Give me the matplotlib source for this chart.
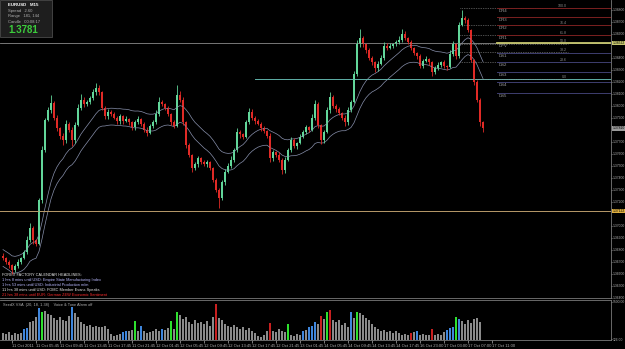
import numpy as np
import pandas as pd
import matplotlib
matplotlib.use('Agg')
import matplotlib.pyplot as plt
from matplotlib.patches import Rectangle

W, H = 625, 349
plt.rcParams['font.family'] = ['Liberation Sans', 'DejaVu Sans']

# EURUSD M15 closes (open of each bar = previous close)
first_open = 1.3675
closes = [
    1.3673, 1.3670, 1.3667, 1.3663, 1.3666, 1.3670, 1.3673, 1.3678, 1.3688, 1.3698,
    1.3688, 1.3685, 1.3721, 1.3763, 1.3788, 1.3796, 1.3802, 1.3790, 1.3781, 1.3775,
    1.3771, 1.3785, 1.3780, 1.3771, 1.3784, 1.3798, 1.3805, 1.3801, 1.3803, 1.3806,
    1.3811, 1.3815, 1.3811, 1.3798, 1.3791, 1.3795, 1.3793, 1.3790, 1.3787, 1.3791,
    1.3787, 1.3789, 1.3786, 1.3782, 1.3786, 1.3789, 1.3785, 1.3780, 1.3777, 1.3783,
    1.3786, 1.3793, 1.3803, 1.3801, 1.3798, 1.3793, 1.3786, 1.3783, 1.3809, 1.3805,
    1.3786, 1.3767, 1.3759, 1.3748, 1.3751, 1.3756, 1.3753, 1.3751, 1.3753, 1.3748,
    1.3738, 1.3730, 1.3723, 1.3736, 1.3745, 1.3750, 1.3755, 1.3763, 1.3778, 1.3776,
    1.3774, 1.3786, 1.3795, 1.3790, 1.3787, 1.3785, 1.3781, 1.3779, 1.3775, 1.3756,
    1.3761, 1.3759, 1.3755, 1.3746, 1.3755, 1.3763, 1.3771, 1.3766, 1.3769, 1.3774,
    1.3778, 1.3782, 1.3780, 1.3790, 1.3801, 1.3784, 1.3771, 1.3778, 1.3796, 1.3807,
    1.3800, 1.3797, 1.3794, 1.3790, 1.3786, 1.3796, 1.3803, 1.3826, 1.3851, 1.3856,
    1.3851, 1.3846, 1.3840, 1.3836, 1.3831, 1.3835, 1.3840, 1.3850, 1.3848, 1.3850,
    1.3851, 1.3853, 1.3855, 1.3860, 1.3856, 1.3853, 1.3848, 1.3844, 1.3841, 1.3833,
    1.3837, 1.3839, 1.3836, 1.3828, 1.3831, 1.3834, 1.3836, 1.3833, 1.3832, 1.3843,
    1.3851, 1.3841, 1.3867, 1.3873, 1.3871, 1.3863, 1.3838, 1.3820, 1.3805, 1.3786,
    1.3781,
]
# wick sizes in pips above / below the body
wick_up = [
    2, 1, 1, 1, 2, 2, 1, 2, 3, 4, 2, 1, 2, 3, 2, 3, 7, 2, 2, 1,
    2, 3, 1, 2, 2, 3, 5, 2, 2, 2, 3, 4, 2, 1, 2, 2, 1, 2, 1, 2,
    1, 2, 1, 1, 2, 2, 1, 1, 2, 2, 2, 3, 4, 2, 1, 2, 1, 2, 8, 3,
    2, 1, 2, 1, 2, 2, 1, 2, 2, 1, 1, 2, 1, 2, 2, 2, 3, 2, 3, 2,
    1, 2, 3, 2, 1, 2, 1, 2, 1, 2, 2, 1, 2, 1, 2, 2, 3, 2, 1, 2,
    2, 2, 1, 3, 4, 2, 1, 2, 3, 4, 2, 1, 2, 1, 2, 3, 2, 3, 4, 8,
    2, 1, 2, 1, 1, 2, 2, 3, 2, 2, 1, 2, 3, 4, 2, 1, 2, 1, 1, 2,
    2, 2, 1, 1, 2, 2, 1, 2, 1, 3, 3, 1, 3, 7, 2, 2, 1, 1, 1, 1,
    1,
]
wick_dn = [
    2, 2, 2, 3, 2, 1, 2, 1, 2, 2, 3, 2, 1, 2, 2, 1, 2, 2, 2, 3,
    4, 2, 2, 5, 2, 1, 2, 2, 1, 2, 1, 2, 2, 2, 2, 2, 2, 1, 2, 2,
    2, 1, 2, 2, 2, 1, 2, 2, 2, 1, 2, 1, 2, 1, 2, 2, 2, 2, 1, 2,
    2, 2, 2, 3, 2, 2, 2, 1, 2, 2, 2, 2, 8, 2, 2, 1, 2, 2, 2, 3,
    2, 1, 1, 2, 2, 1, 2, 2, 2, 3, 2, 2, 2, 3, 2, 1, 2, 1, 2, 1,
    1, 2, 2, 1, 2, 3, 3, 2, 1, 2, 2, 2, 2, 2, 3, 2, 1, 1, 1, 2,
    2, 2, 2, 2, 3, 2, 1, 2, 2, 1, 2, 1, 2, 2, 1, 2, 2, 2, 2, 2,
    2, 1, 2, 3, 2, 1, 2, 2, 2, 1, 2, 2, 1, 1, 2, 2, 2, 3, 2, 3,
    3,
]
volumes = [
    1670, 1500, 1920, 1330, 1670, 1500, 1830, 2750, 3000, 4420,
    4670, 5670, 8000, 6920, 7170, 6500, 6080, 5500, 4830, 5670,
    5000, 4670, 5830, 8170, 6670, 5670, 4420, 4000, 3580, 3830,
    3330, 3580, 3170, 3330, 3580, 2750, 1500, 1080, 1330, 1500,
    1920, 2330, 2170, 2500, 4670, 2330, 3580, 2330, 1670, 2000,
    2330, 2670, 2330, 2830, 2500, 3000, 4670, 2750, 6920, 6080,
    5250, 5670, 4420, 4000, 4830, 4170, 4420, 4000, 4670, 3580,
    5670, 9000, 5500, 4830, 4000, 3580, 3170, 3830, 3330, 2750,
    3170, 2500, 3000, 2330, 1670, 1080, 830, 1330, 2330, 4170,
    2330, 1920, 2750, 2330, 1920, 4000, 1330, 1000, 1500, 1330,
    2330, 2500, 3330, 3580, 4420, 4000, 5830, 5250, 6920, 7330,
    5000, 4420, 4830, 3830, 4170, 3170, 6920, 5500, 6920, 6670,
    6080, 5500, 4830, 4000, 3170, 2670, 2330, 2500, 2000, 2330,
    1830, 2170, 1670, 1330, 1500, 1170, 1670, 2000, 2330, 1330,
    1500, 1330, 1170, 2750, 1330, 1500, 1330, 1920, 2500, 3000,
    3330, 5670, 5250, 4670, 4000, 4830, 4170, 5250, 5500, 4420,
]
blue_bars = [7, 8, 12, 23, 40, 41, 46, 53, 100, 102, 103, 104, 116, 138, 148, 149, 150, 152]
green_bars = [13, 44, 56, 58, 95, 108, 118, 151]
red_bars = [71, 89, 106, 109, 136, 143]

date_labels = [
    '11 Oct 2011', '11 Oct 05:45', '11 Oct 09:45', '11 Oct 13:45', '11 Oct 17:45',
    '11 Oct 21:45', '12 Oct 01:45', '12 Oct 05:45', '12 Oct 09:45', '12 Oct 13:45',
    '12 Oct 17:45', '12 Oct 21:45', '13 Oct 01:45', '14 Oct 05:45', '14 Oct 09:45',
    '14 Oct 13:45', '14 Oct 17:45', '16 Oct 23:00', '17 Oct 03:00', '17 Oct 07:00',
    '17 Oct 11:00',
]

headlines = [
    'FOREX FACTORY CALENDAR HEADLINES:',
    '1 hrs 8 mins until USD: Empire State Manufacturing Index',
    '1 hrs 53 mins until USD: Industrial Production m/m',
    '11 hrs 38 mins until USD: FOMC Member Evans Speaks',
    '21 hrs 38 mins until EUR: German ZEW Economic Sentiment',
]
headline_colors = ['#e8e8e8', '#b8b8ff', '#b8b8ff', '#e8e8e8', '#ff2a2a']

pivot_names = ['DR4', 'DR3', 'DR2', 'DR1', 'DPV', 'DS1', 'DS2', 'DS3', 'DS4', 'DS5']
pivot_prices = [1.38813, 1.38738, 1.38672, 1.38588, 1.38522, 1.38438, 1.38363, 1.38280, 1.38197, 1.38105]
fib_levels = [100.0, 76.4, 61.8, 50.0, 38.2, 23.6, 0.0]
fib_low, fib_high = 1.38222, 1.38813

grey_line = 1.38522
teal_line = 1.38222
orange_line = 1.37122

# ---------------------------------------------------------------
n = len(closes)
x = np.arange(n)
opens = [first_open] + closes[:-1]
highs = [max(o, c) + u * 0.0001 for o, c, u in zip(opens, closes, wick_up)]
lows = [min(o, c) - d * 0.0001 for o, c, d in zip(opens, closes, wick_dn)]

bar_px = 3.0
x_lo = -1
x_hi = x_lo + 611 / bar_px
y_top, y_bot = 1.3888, 1.3888 - 298 / 12000


def fx(px):
    return px / W


def fy(py):
    return 1 - py / H


def bar_at(px):
    return x_lo + px / bar_px


fig = plt.figure(figsize=(W / 100, H / 100), dpi=100, facecolor='black')
ax = fig.add_axes([0, fy(298), fx(611), 298 / H], facecolor='black')
ax2 = fig.add_axes([0, fy(340), fx(611), 40 / H], facecolor='black')

# moving-average channel
ma = pd.Series(closes).ewm(span=18).mean()
ax.plot(x, ma + 0.0007, color='#8890ac', lw=0.5)
ax.plot(x, ma - 0.0007, color='#8890ac', lw=0.5)

# horizontal lines
ax.axhline(grey_line, color='#8a8a8a', lw=0.6)
ax.plot([bar_at(255), x_hi], [teal_line, teal_line], color='#5fb0a8', lw=0.7)
ax.axhline(orange_line, color='#b89a6a', lw=0.7)

# fibonacci levels (dotted) and pivots
for lev in fib_levels:
    p = fib_low + (fib_high - fib_low) * lev / 100
    ax.plot([bar_at(460), bar_at(568)], [p, p], color='#9a9a9a', lw=0.5, ls=(0, (1, 1.5)))
for name, p in zip(pivot_names, pivot_prices):
    if name.startswith('DR'):
        col, lw = '#7a2020', 0.7
    elif name == 'DPV':
        col, lw = '#c8c870', 1.3
    else:
        col, lw = '#3e3e70', 0.7
    ax.plot([bar_at(497), x_hi], [p, p], color=col, lw=lw)
    ax.text(bar_at(499), p - 0.00006, name, color='#a0a0a0', fontsize=3.1, va='top', ha='left')
for lev in fib_levels:
    p = fib_low + (fib_high - fib_low) * lev / 100
    ax.text(bar_at(567), p + 0.00002, f'{lev:.1f}', color='#8a8a8a', fontsize=2.6, va='bottom', ha='right')

# candles
up = [c >= o for o, c in zip(opens, closes)]
cols = ['#62d69a' if u else '#e02a26' for u in up]
ax.vlines(x, lows, highs, colors=cols, lw=0.6)
bottoms = [min(o, c) for o, c in zip(opens, closes)]
bodies = [max(abs(c - o), 0.00004) for o, c in zip(opens, closes)]
ax.bar(x, bodies, bottom=bottoms, width=0.62, color=cols, linewidth=0)

# right-axis price boxes (they hide the tick label underneath, as in the terminal)
boxes = [(grey_line, '#c8c870'), (closes[-1], '#9a9a9a'), (orange_line, '#e0b040')]
ticks = [t for t in np.arange(1.3640, 1.3885, 0.0010)
         if all(abs(t - b) > 0.0006 for b, _ in boxes)]

ax.set_xlim(x_lo, x_hi)
ax.set_ylim(y_bot, y_top)
ax.set_xticks([])
ax.yaxis.tick_right()
ax.set_yticks(ticks)
ax.yaxis.set_major_formatter(plt.FormatStrFormatter('%.5f'))
ax.tick_params(axis='y', colors='#b0b0b0', labelsize=2.4, length=1, width=0.5, pad=0.4)
for s in ['top', 'left']:
    ax.spines[s].set_visible(False)
for s in ['right', 'bottom']:
    ax.spines[s].set_color('#7a7a7a')
    ax.spines[s].set_linewidth(0.6)

for price, face in boxes:
    ax.text(1.003, price, f'{price:.5f}', transform=ax.get_yaxis_transform(),
            fontsize=2.4, color='black', va='center', ha='left',
            bbox=dict(boxstyle='square,pad=0.1', fc=face, ec='none'), clip_on=False)

# volume panel
vcols = ['#8a8a8a'] * n
for i in blue_bars:
    vcols[i] = '#3f86dc'
for i in green_bars:
    vcols[i] = '#2ee02e'
for i in red_bars:
    vcols[i] = '#c82020'
ax2.bar(x[:len(volumes)], volumes, width=0.55, color=vcols[:len(volumes)], linewidth=0)
ax2.set_xlim(x_lo, x_hi)
ax2.set_ylim(0, 9887)
ax2.yaxis.tick_right()
ax2.set_yticks([126, 9500])
ax2.yaxis.set_major_formatter(plt.FormatStrFormatter('%.2f'))
ax2.tick_params(axis='y', colors='#b0b0b0', labelsize=2.4, length=1, width=0.5, pad=0.4)
ax2.set_xticks(np.arange(len(date_labels)) * 8 + 3)
ax2.set_xticklabels(date_labels, ha='left')
ax2.tick_params(axis='x', colors='#b0b0b0', labelsize=3, length=2, width=0.5, pad=0.8)
for s in ax2.spines.values():
    s.set_color('#7a7a7a')
    s.set_linewidth(0.6)
ax2.spines['left'].set_visible(False)
ax2.text(0.005, 0.93, 'SeedX VSA  (20, 18, 1.38)    Voice & Tone Alarm off',
         transform=ax2.transAxes, color='#b0b0b0', fontsize=2.8, va='top', ha='left')

# headlines
for k, (txt, col) in enumerate(zip(headlines, headline_colors)):
    fig.text(fx(2), fy(275 + k * 5), txt, color=col, fontsize=2.8, va='center', ha='left')

# info box
fig.patches.append(Rectangle((0, fy(37)), fx(52), 37 / H, transform=fig.transFigure,
                             facecolor='#1e1e1e', edgecolor='#4a4a4a', lw=0.6))
fig.text(fx(8), fy(5), 'EURUSD   M15', color='white', fontsize=3.2, fontweight='bold', va='center')
fig.text(fx(8), fy(11), 'Spread   2.60', color='#b0b0b0', fontsize=3.0, va='center')
fig.text(fx(8), fy(16.5), 'Range   181, 144', color='#b0b0b0', fontsize=3.0, va='center')
fig.text(fx(8), fy(22), 'Candle   00:08:17', color='#b0b0b0', fontsize=3.0, va='center')
fig.text(fx(8), fy(30), '1.3781', color='#3ccc3c', fontsize=7, fontweight='bold', va='center')

fig.savefig('out.png', dpi=100, facecolor='black')
plt.close(fig)
